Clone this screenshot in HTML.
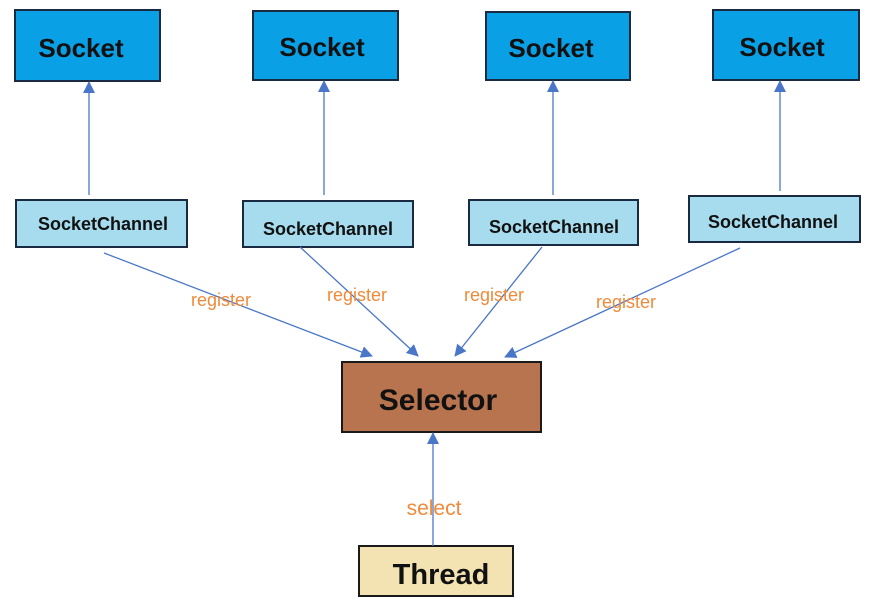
<!DOCTYPE html>
<html><head><style>
body{margin:0;background:#fff;width:869px;height:603px;overflow:hidden}
svg text{font-family:"Liberation Sans",sans-serif}
</style></head><body>
<svg width="869" height="603" xmlns="http://www.w3.org/2000/svg">
<defs><marker id="a" markerWidth="12" markerHeight="12" refX="11" refY="6" orient="auto" markerUnits="userSpaceOnUse"><path d="M0,0 L12,6 L0,12 Z" fill="#4a76c8"/></marker></defs>
<g fill="#0aa0e6" stroke="#1a2a40" stroke-width="2">
<rect x="15" y="10" width="145" height="71"/><rect x="253" y="11" width="145" height="69"/>
<rect x="486" y="12" width="144" height="68"/><rect x="713" y="10" width="146" height="70"/>
</g>
<g fill="#a6dcee" stroke="#1a2a40" stroke-width="2">
<rect x="16" y="200" width="171" height="47"/><rect x="243" y="201" width="170" height="46"/>
<rect x="469" y="200" width="169" height="45"/><rect x="689" y="196" width="171" height="46"/>
</g>
<rect x="342" y="362" width="199" height="70" fill="#b8744f" stroke="#1a1a1a" stroke-width="2"/>
<rect x="359" y="546" width="154" height="50" fill="#f3e3b2" stroke="#1a1a1a" stroke-width="2"/>
<g stroke="#4a76c8" stroke-width="1.3" marker-end="url(#a)">
<line x1="89" y1="195" x2="89" y2="82"/><line x1="324" y1="195" x2="324" y2="81"/>
<line x1="553" y1="195" x2="553" y2="81"/><line x1="780" y1="191" x2="780" y2="81"/>
<line x1="104" y1="253" x2="372" y2="356"/><line x1="300" y1="247" x2="418" y2="356"/>
<line x1="542" y1="247" x2="455" y2="356"/><line x1="740" y1="248" x2="505" y2="357"/>
<line x1="433" y1="546" x2="433" y2="433"/>
</g>
<g font-weight="bold" fill="#111" font-size="26" text-anchor="middle">
<text x="81" y="57">Socket</text><text x="322" y="56">Socket</text>
<text x="551" y="57">Socket</text><text x="782" y="56">Socket</text>
</g>
<g font-weight="bold" fill="#111" font-size="18" text-anchor="middle">
<text x="103" y="230">SocketChannel</text><text x="328" y="235">SocketChannel</text>
<text x="554" y="233">SocketChannel</text><text x="773" y="228">SocketChannel</text>
</g>
<text x="438" y="410" font-weight="bold" font-size="30" fill="#111" text-anchor="middle">Selector</text>
<text x="441" y="584" font-weight="bold" font-size="29" fill="#111" text-anchor="middle">Thread</text>
<g fill="#f08a3a" font-size="18" text-anchor="middle">
<text x="221" y="306">register</text><text x="357" y="301">register</text>
<text x="494" y="301">register</text><text x="626" y="308">register</text>
<text x="434" y="515" font-size="21">select</text>
</g>
</svg>
</body></html>
